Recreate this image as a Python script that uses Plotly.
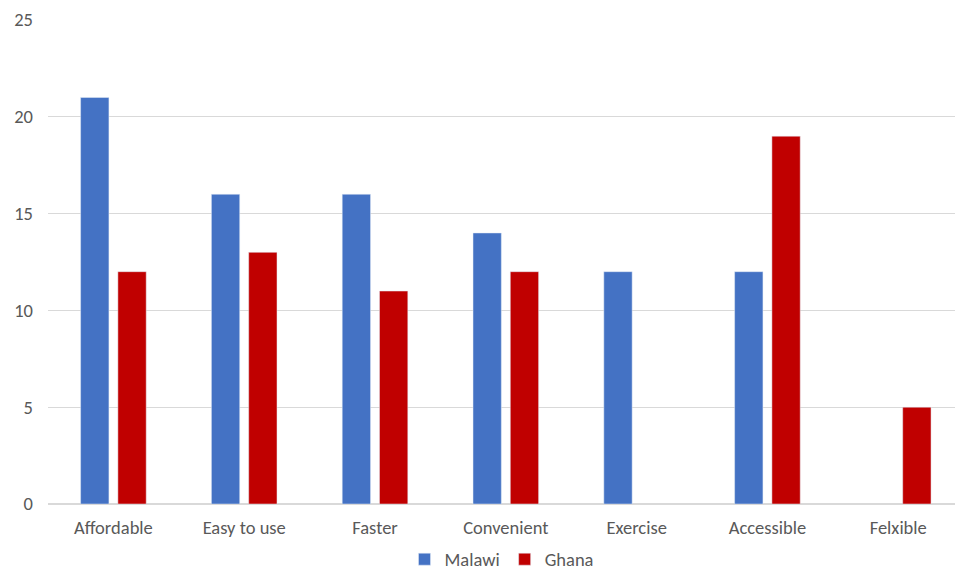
import plotly.graph_objects as go

categories = ["Affordable", "Easy to use", "Faster", "Convenient", "Exercise", "Accessible", "Felxible"]
malawi = [21, 16, 16, 14, 12, 12, None]
ghana = [12, 13, 11, 12, None, 19, 5]

fig = go.Figure()
fig.add_trace(go.Bar(name="Malawi", x=categories, y=malawi, marker_color="#4472C4"))
fig.add_trace(go.Bar(name="Ghana", x=categories, y=ghana, marker_color="#C00000"))

font_family = "Carlito, Calibri, Lato, 'Liberation Sans', Arial, sans-serif"
fs = 18.5
fig.update_layout(
    width=955, height=571,
    margin=dict(l=48, r=0, t=20, b=67, autoexpand=False),
    paper_bgcolor="white", plot_bgcolor="white",
    barmode="group", bargap=0.43, bargroupgap=0.24,
    font=dict(family=font_family, size=fs, color="#595959"),
    legend=dict(orientation="h", x=0.5, xanchor="center", y=-0.115, yanchor="middle",
                font=dict(size=fs, color="#595959"), itemwidth=30,
                traceorder="normal"),
    xaxis=dict(showgrid=False, showline=True, linecolor="#d9d9d9", linewidth=1,
               range=[-0.5, 6.434],
               ticks="", ticklabelstandoff=7, tickfont=dict(size=fs, color="#595959")),
    yaxis=dict(range=[0, 25], dtick=5, showgrid=True, gridcolor="#d9d9d9", gridwidth=1,
               zeroline=True, zerolinecolor="#d9d9d9", showline=False,
               ticks="", ticklabelstandoff=14, tickfont=dict(size=fs, color="#595959")),
)
fig.write_html("out.html")
